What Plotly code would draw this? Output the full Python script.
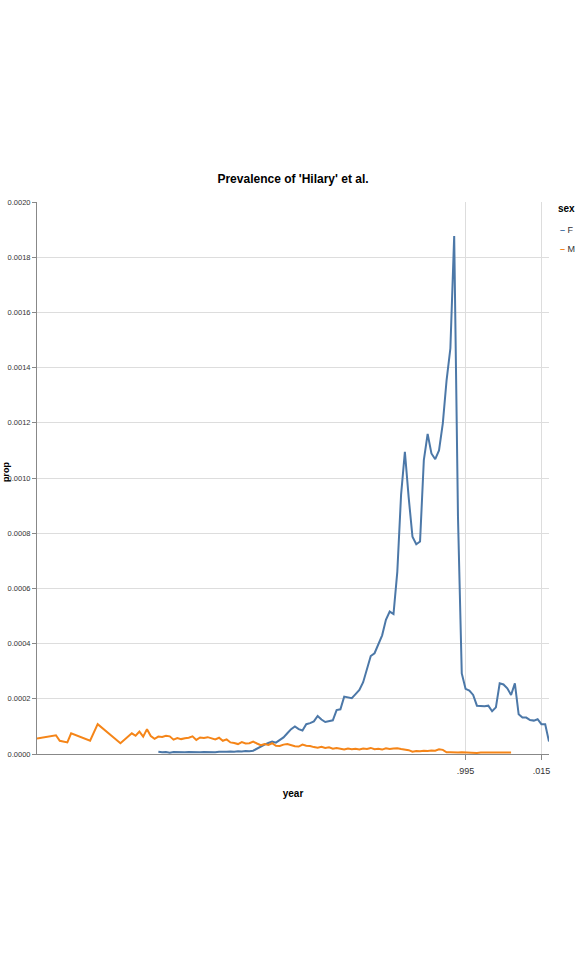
import plotly.graph_objects as go

# ---- data ----
f_years = list(range(1914, 2018))
f_prop = [
    8e-6, 6e-6, 7e-6, 5e-6, 7e-6, 6e-6, 5e-6, 6e-6, 7e-6, 6e-6,          # 1914-1923
    5e-6, 6e-6, 7e-6, 6e-6, 7e-6, 6e-6, 8e-6, 7e-6, 8e-6, 9e-6,          # 1924-1933
    8e-6, 1.0e-5, 9e-6, 1.1e-5, 1.0e-5, 1.2e-5, 2.0e-5, 2.7e-5, 3.4e-5, 4.0e-5,  # 1934-1943
    4.5e-5, 4.1e-5, 5.2e-5, 6.0e-5, 7.5e-5, 9.0e-5, 1.0e-4, 9.0e-5, 8.5e-5, 1.08e-4,  # 1944-1953
    1.12e-4, 1.18e-4, 1.38e-4, 1.25e-4, 1.16e-4, 1.18e-4, 1.22e-4, 1.59e-4, 1.62e-4, 2.08e-4,  # 1954-1963
    2.05e-4, 2.02e-4, 2.17e-4, 2.32e-4, 2.60e-4, 3.10e-4, 3.55e-4, 3.65e-4, 3.95e-4, 4.30e-4,  # 1964-1973
    4.86e-4, 5.16e-4, 5.07e-4, 6.60e-4, 9.40e-4, 1.095e-3, 9.30e-4, 7.87e-4, 7.60e-4, 7.70e-4,  # 1974-1983
    1.065e-3, 1.160e-3, 1.089e-3, 1.068e-3, 1.100e-3, 1.198e-3, 1.355e-3, 1.470e-3, 1.877e-3, 8.60e-4,  # 1984-1993
    2.92e-4, 2.36e-4, 2.30e-4, 2.14e-4, 1.75e-4, 1.74e-4, 1.73e-4, 1.75e-4, 1.55e-4, 1.69e-4,  # 1994-2003
    2.56e-4, 2.52e-4, 2.38e-4, 2.14e-4, 2.56e-4, 1.44e-4, 1.32e-4, 1.32e-4, 1.23e-4, 1.21e-4,  # 2004-2013
    1.26e-4, 1.08e-4, 1.08e-4, 4.5e-5,                                   # 2014-2017
]

m_years = [1882, 1887, 1888, 1889, 1890, 1891, 1896, 1898, 1904, 1907, 1908, 1909, 1910] + list(range(1911, 2008))
m_prop = [
    5.6e-5, 6.8e-5, 4.8e-5, 4.5e-5, 4.2e-5, 7.5e-5, 4.8e-5, 1.08e-4, 3.9e-5, 7.5e-5, 6.6e-5, 8.1e-5, 6.3e-5,
    9.0e-5, 6.5e-5, 5.5e-5, 6.3e-5, 6.2e-5, 6.6e-5, 6.4e-5, 5.2e-5, 5.8e-5, 5.4e-5,   # 1911-1920
    5.7e-5, 5.9e-5, 6.4e-5, 5.1e-5, 6.0e-5, 5.8e-5, 6.1e-5, 5.7e-5, 5.3e-5, 5.9e-5,   # 1921-1930
    4.8e-5, 5.3e-5, 4.2e-5, 4.0e-5, 3.6e-5, 4.3e-5, 3.8e-5, 3.9e-5, 4.5e-5, 3.8e-5,   # 1931-1940
    3.2e-5, 3.6e-5, 3.3e-5, 3.9e-5, 3.0e-5, 2.9e-5, 3.4e-5, 3.6e-5, 3.1e-5, 2.8e-5,   # 1941-1950
    2.7e-5, 3.4e-5, 3.0e-5, 2.9e-5, 2.5e-5, 2.3e-5, 2.6e-5, 2.2e-5, 2.4e-5, 1.9e-5,   # 1951-1960
    2.2e-5, 1.8e-5, 1.6e-5, 2.0e-5, 1.7e-5, 1.9e-5, 1.6e-5, 2.0e-5, 1.8e-5, 2.2e-5,   # 1961-1970
    1.7e-5, 1.9e-5, 1.6e-5, 2.1e-5, 1.8e-5, 2.0e-5, 2.1e-5, 1.8e-5, 1.7e-5, 1.4e-5,   # 1971-1980
    8e-6, 1.1e-5, 1.0e-5, 1.2e-5, 1.1e-5, 1.3e-5, 1.2e-5, 1.7e-5, 1.5e-5, 6e-6,        # 1981-1990
    6e-6, 5e-6, 5e-6, 6e-6, 5e-6, 5e-6, 5e-6, 4e-6, 5e-6, 5e-6,                        # 1991-2000
    4e-6, 5e-6, 5e-6, 4e-6, 5e-6, 5e-6, 5e-6,                                          # 2001-2007
]

series_names = ["F", "M"]
series_colors = ["#4c78a8", "#f58518"]
y_ticks = [0.0, 0.0002, 0.0004, 0.0006, 0.0008, 0.0010, 0.0012, 0.0014, 0.0016, 0.0018, 0.0020]
x_tickvals = [1995, 2015]
x_ticktext = [".995", ".015"]

FONT = "Liberation Sans, Arial, sans-serif"
W, H = 581, 969
L, T = 37, 202
R, B = W - 549, H - 754
PW, PH = W - L - R, H - T - B


def py(page_y):
    """page pixel y -> paper fraction"""
    return (T + PH - page_y) / PH


def px(page_x):
    return (page_x - L) / PW


fig = go.Figure()
for name, xs, ys, col in [("F", f_years, f_prop, series_colors[0]), ("M", m_years, m_prop, series_colors[1])]:
    fig.add_trace(go.Scatter(x=xs, y=ys, mode="lines", name=name,
                             line=dict(color=col, width=2), showlegend=False))

fig.update_layout(
    width=W, height=H,
    margin=dict(l=L, r=R, t=T, b=B, autoexpand=False),
    plot_bgcolor="white", paper_bgcolor="white",
    font=dict(family=FONT, color="#333", size=9),
    title=dict(text="<b>Prevalence of 'Hilary' et al.</b>", x=0.5, xref="paper",
               y=1 - 179 / H, yref="container", yanchor="middle",
               font=dict(size=12, color="#000", family=FONT)),
    xaxis=dict(range=[1882, 2017], tickvals=x_tickvals, ticktext=x_ticktext,
               automargin=False,
               showgrid=True, gridcolor="#ddd", gridwidth=1, zeroline=False,
               showline=True, linecolor="#888", linewidth=1,
               ticks="outside", ticklen=5, tickcolor="#888",
               ticklabelstandoff=3,
               tickfont=dict(size=9, color="#333"),
               title=dict(text="<b>year</b>", font=dict(size=10, color="#000"), standoff=15)),
    yaxis=dict(range=[0, 0.002], tickvals=y_ticks, tickformat=".4f",
               automargin=False,
               showgrid=True, gridcolor="#ddd", gridwidth=1, zeroline=False,
               showline=True, linecolor="#888", linewidth=1,
               ticks="outside", ticklen=4, tickcolor="#888",
               tickfont=dict(size=7.5, color="#333")),
)

# y-axis title
fig.add_annotation(text="<b>prop</b>", xref="paper", yref="paper", textangle=-90,
                   x=px(6), y=py(472), xanchor="center", yanchor="middle",
                   showarrow=False, font=dict(size=9, color="#000", family=FONT))

# legend drawn as text (swatch dash + label)
fig.add_annotation(text="<b>sex</b>", xref="paper", yref="paper",
                   x=px(556), y=py(209), xanchor="left", yanchor="middle",
                   showarrow=False, font=dict(size=10, color="#000", family=FONT))
for i, (name, col) in enumerate(zip(series_names, series_colors)):
    fig.add_annotation(text=f"<b><span style='color:{col}'>–</span></b> {name}",
                       xref="paper", yref="paper",
                       x=px(558), y=py(230 + 19 * i),
                       xanchor="left", yanchor="middle", showarrow=False,
                       font=dict(size=9, color="#333", family=FONT))

fig.write_html("out.html", config={"displayModeBar": False},
               post_script="document.body.style.margin='0';")
